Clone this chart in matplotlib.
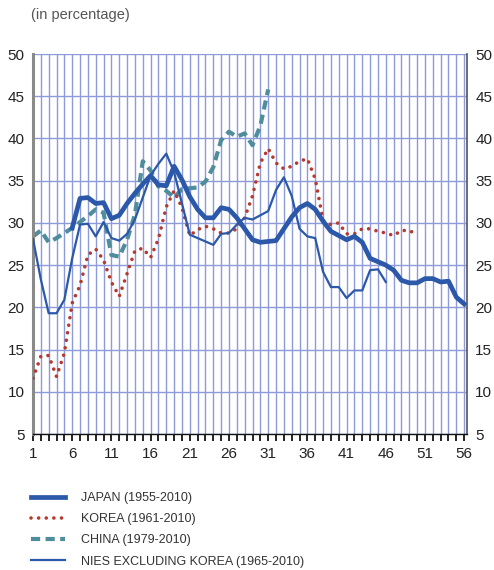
import matplotlib.pyplot as plt
import numpy as np

plt.rcParams['font.family'] = ['Liberation Sans', 'DejaVu Sans']

# series values, indexed by year count (1 = first year on the axis)
japan_start = 6
japan = [29.4, 32.9, 33.0, 32.3, 32.4, 30.5, 30.9, 32.3, 33.5, 34.6,
         35.6, 34.5, 34.4, 36.7, 35.1, 33.1, 31.6, 30.6, 30.6, 31.8,
         31.6, 30.6, 29.3, 28.0, 27.7, 27.8, 27.9, 29.3, 30.7, 31.8,
         32.3, 31.6, 30.2, 29.0, 28.5, 28.0, 28.4, 27.7, 25.8, 25.4,
         25.0, 24.4, 23.2, 22.9, 22.9, 23.4, 23.4, 23.0, 23.1, 21.2,
         20.4]

korea_start = 1
korea = [11.6, 14.2, 14.3, 11.8, 14.6, 20.5, 22.6, 26.2, 26.9, 25.6,
         23.0, 21.3, 24.0, 26.7, 27.0, 25.9, 28.1, 31.9, 33.8, 31.8,
         28.5, 29.2, 29.6, 29.3, 28.8, 28.8, 29.3, 30.6, 33.2, 37.1,
         38.8, 37.1, 36.4, 36.7, 37.3, 37.6, 35.2, 30.3, 29.8, 30.0,
         28.7, 28.7, 29.3, 29.3, 29.0, 28.8, 28.5, 29.1, 29.1, 28.6]

china_start = 1
china = [28.4, 29.1, 27.7, 28.2, 28.8, 29.4, 30.1, 30.8, 31.6, 31.2,
         26.2, 26.0, 28.0, 31.0, 37.3, 36.2, 34.3, 33.8, 33.0, 34.0,
         34.1, 34.2, 34.9, 36.6, 39.8, 40.8, 40.2, 40.6, 39.2, 41.5,
         45.8]

nies_start = 1
nies = [28.1, 23.3, 19.3, 19.3, 20.9, 25.8, 29.8, 29.9, 28.4, 30.1,
        28.2, 27.9, 28.7, 30.4, 33.0, 35.6, 37.0, 38.2, 36.0, 32.3,
        28.6, 28.2, 27.8, 27.4, 28.7, 28.8, 29.8, 30.6, 30.4, 30.9,
        31.4, 33.9, 35.4, 33.2, 29.3, 28.4, 28.2, 24.2, 22.4, 22.4,
        21.1, 22.0, 22.0, 24.4, 24.5, 23.0]

labels = ['JAPAN (1955-2010)', 'KOREA (1961-2010)', 'CHINA (1979-2010)',
          'NIES EXCLUDING KOREA (1965-2010)']

n_years = 56
x_ticklabels = list(range(1, n_years + 1, 5))
y_ticks = list(range(5, 51, 5))

blue = '#2B58A8'
red = '#B53A2D'
teal = '#4F8D9D'
grid_col = '#8D9BD9'

fig = plt.figure(figsize=(4.94, 5.70), dpi=100)
ax = fig.add_axes([33 / 494, 136 / 570, 434 / 494, 380 / 570])


def xs(start, vals):
    return np.arange(start, start + len(vals))


ax.plot(xs(japan_start, japan), japan, color=blue, lw=3.4,
        solid_joinstyle='round', label=labels[0], zorder=5)
ax.plot(xs(korea_start, korea), korea, color=red, lw=2.6,
        linestyle=(0, (0.01, 2.1)), dash_capstyle='round',
        label=labels[1], zorder=3)
ax.plot(xs(china_start, china), china, color=teal, lw=3.0,
        linestyle=(0, (2.2, 1.3)), label=labels[2], zorder=2)
ax.plot(xs(nies_start, nies), nies, color=blue, lw=1.6,
        label=labels[3], zorder=4)

ax.set_xlim(1, 56.36)
ax.set_ylim(5, 50)

ax.set_xticks(np.arange(1, n_years + 1))
ax.set_xticklabels([str(i) if i in x_ticklabels else '' for i in range(1, n_years + 1)])
ax.set_yticks(y_ticks)
ax.grid(True, color=grid_col, lw=1.0, zorder=0)
ax.set_axisbelow(True)

ax.tick_params(axis='x', direction='out', length=5, width=1.3, color='#111',
               labelsize=11, pad=4, labelcolor='#222')
ax.tick_params(axis='y', length=0, labelsize=11, pad=6, labelcolor='#222',
               labelright=True)

ax.spines['top'].set_visible(False)
ax.spines['left'].set_color('#8a8a8a')
ax.spines['left'].set_linewidth(2.2)
ax.spines['right'].set_color('#555')
ax.spines['right'].set_linewidth(1.2)
ax.spines['bottom'].set_color('#111')
ax.spines['bottom'].set_linewidth(1.0)

fig.text(31 / 494, 1 - 15 / 570, '(in percentage)', fontsize=10.5,
         color='#555', ha='left', va='center')

fig.legend(loc='upper left', bbox_to_anchor=(31 / 494, 1 - 492 / 570),
           frameon=False, borderpad=0, borderaxespad=0,
           handlelength=2.7, handletextpad=1.3, labelspacing=0.74,
           prop={'family': ['Liberation Sans'], 'size': 9},
           labelcolor='#333')

fig.savefig('out.png', dpi=100)
